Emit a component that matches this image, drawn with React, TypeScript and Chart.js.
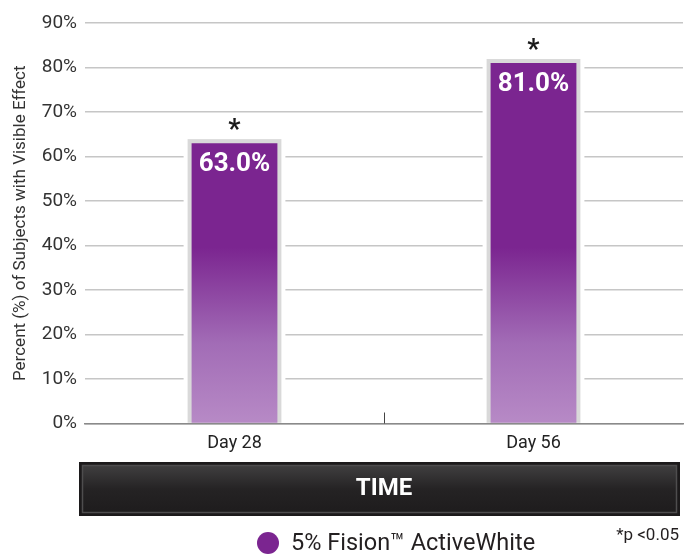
import { useEffect, useRef } from 'react';
import { Chart, registerables } from 'chart.js';

Chart.register(...registerables);

const categories = ['Day 28', 'Day 56'];
const seriesLabel = '5% Fision\u2122 ActiveWhite';
const values = [63.0, 81.0];
const significance = ['*', '*'];
const yTicks = [0, 10, 20, 30, 40, 50, 60, 70, 80, 90];
const xTitle = 'TIME';
const yTitle = 'Percent (%) of Subjects with Visible Effect';
const footnote = '*p <0.05';

const PURPLE = '#7B2590';
const FONT = 'Roboto';
const X_TITLE_SIZE = 24;
const X_TITLE_PAD_BOTTOM = 50.6;

const decorPlugin = {
  id: 'decor',
  beforeDraw(chart: any) {
    const { ctx, chartArea } = chart;
    const x = chart.scales.x;
    const cy = x.bottom - (X_TITLE_SIZE * 1.2) / 2 - X_TITLE_PAD_BOTTOM;
    const left = chartArea.left - 6;
    const right = chartArea.right - 3;
    const top = cy - 27;
    const bottom = cy + 27;
    ctx.save();
    ctx.fillStyle = '#1c1a1b';
    ctx.fillRect(left, top, right - left, bottom - top);
    const g = ctx.createLinearGradient(0, top + 4, 0, bottom - 4);
    g.addColorStop(0, '#3f3e3f');
    g.addColorStop(0.5, '#252324');
    g.addColorStop(1, '#1e1c1d');
    ctx.fillStyle = g;
    ctx.fillRect(left + 4, top + 4, right - left - 8, bottom - top - 8);
    ctx.strokeStyle = '#4e4d4e';
    ctx.lineWidth = 1.5;
    ctx.strokeRect(left + 3.5, top + 3.5, right - left - 7, bottom - top - 7);
    ctx.restore();
  },
  beforeDatasetsDraw(chart: any) {
    const { ctx } = chart;
    const meta = chart.getDatasetMeta(0);
    ctx.save();
    meta.data.forEach((bar: any) => {
      const half = bar.width / 2;
      const l = bar.x - half - 4;
      const r = bar.x + half + 4;
      const t = bar.y - 4;
      const b = bar.base - 1;
      ctx.fillStyle = '#ffffff';
      ctx.fillRect(l - 4, t - 1, r - l + 8, b - t + 1);
      ctx.fillStyle = '#d9d9d9';
      ctx.fillRect(l, t, r - l, b - t + 1);
    });
    ctx.restore();
  },
  afterDatasetsDraw(chart: any) {
    const { ctx } = chart;
    const meta = chart.getDatasetMeta(0);
    const x = chart.scales.x;
    ctx.save();
    meta.data.forEach((bar: any, i: number) => {
      ctx.fillStyle = '#ffffff';
      ctx.font = `bold 26px ${FONT}`;
      ctx.textAlign = 'center';
      ctx.textBaseline = 'alphabetic';
      ctx.fillText(`${values[i].toFixed(1)}%`, bar.x, bar.y + 28);
      ctx.fillStyle = '#1a1a1a';
      ctx.font = `bold 27px ${FONT}`;
      ctx.fillText(significance[i], bar.x, bar.y - 5);
    });
    // middle tick between categories
    const mid = (x.getPixelForTick(0) + x.getPixelForTick(1)) / 2;
    ctx.strokeStyle = '#444';
    ctx.lineWidth = 1;
    ctx.beginPath();
    ctx.moveTo(Math.round(mid) + 0.5, x.top - 11);
    ctx.lineTo(Math.round(mid) + 0.5, x.top);
    ctx.stroke();
    ctx.restore();
  },
  afterDraw(chart: any) {
    const { ctx } = chart;
    const ds = chart.data.datasets[0];
    ctx.save();
    ctx.fillStyle = PURPLE;
    ctx.beginPath();
    ctx.arc(268, 543, 11, 0, Math.PI * 2);
    ctx.fill();
    ctx.fillStyle = '#231f20';
    ctx.font = `23.5px ${FONT}`;
    ctx.textAlign = 'left';
    ctx.textBaseline = 'alphabetic';
    ctx.fillText(ds.label, 291, 550);
    ctx.font = `17px ${FONT}`;
    ctx.textAlign = 'right';
    ctx.fillText(footnote, 679, 540);
    ctx.restore();
  },
};

export default function App() {
  const ref = useRef<HTMLCanvasElement>(null);

  useEffect(() => {
    if (!ref.current) return;
    const chart = new Chart(ref.current, {
      type: 'bar',
      data: {
        labels: categories,
        datasets: [
          {
            label: seriesLabel,
            data: values,
            backgroundColor: (c: any) => {
              const area = c.chart.chartArea;
              if (!area) return PURPLE;
              const g = c.chart.ctx.createLinearGradient(0, area.bottom, 0, area.top);
              g.addColorStop(0, '#B78AC6');
              g.addColorStop(0.2, '#A26CB6');
              g.addColorStop(0.44, '#7B2590');
              g.addColorStop(1, '#7B2590');
              return g;
            },
            borderWidth: 0,
            barPercentage: 1,
            categoryPercentage: 0.287,
          },
        ],
      },
      options: {
        responsive: false,
        animation: false,
        layout: { padding: { top: 23, right: 10, bottom: 0, left: 0 } },
        plugins: {
          legend: { display: false },
          tooltip: { enabled: false },
        },
        scales: {
          x: {
            grid: { display: false },
            border: { display: true, color: '#8a8a8a', width: 1.5 },
            ticks: { color: '#222', font: { family: FONT, size: 18 }, padding: 1 },
            title: {
              display: true,
              text: xTitle,
              color: '#ffffff',
              font: { family: FONT, size: X_TITLE_SIZE, weight: 'bold' },
              padding: { top: 0, bottom: X_TITLE_PAD_BOTTOM },
            },
            afterFit: (s: any) => {
              s.height = 130.5;
            },
          },
          y: {
            min: 0,
            max: 90,
            afterBuildTicks: (s: any) => {
              s.ticks = yTicks.map((v) => ({ value: v }));
            },
            grid: { color: '#c6c6c6', lineWidth: 1.5, drawTicks: false },
            border: { display: false },
            ticks: {
              color: '#333',
              font: { family: FONT, size: 19 },
              padding: 8,
              callback: (v: any) => `${v}%`,
            },
            title: {
              display: true,
              text: yTitle,
              color: '#333',
              font: { family: FONT, size: 17 },
              padding: { top: 11, bottom: 0 },
            },
            afterFit: (s: any) => {
              s.width = 85;
            },
          },
        },
      },
      plugins: [decorPlugin],
    });
    return () => chart.destroy();
  }, []);

  return (
    <div style={{ position: 'fixed', left: 0, top: 0, width: 693, height: 554, background: '#fff' }}>
      <canvas ref={ref} width={693} height={554} />
    </div>
  );
}
